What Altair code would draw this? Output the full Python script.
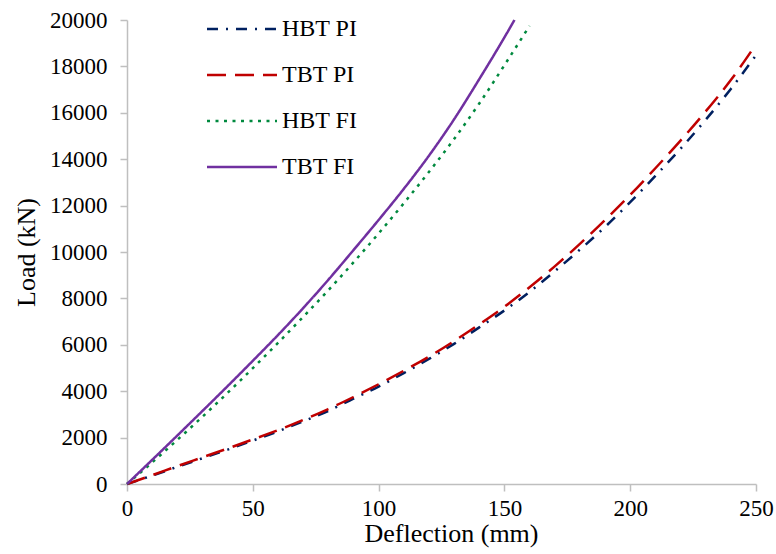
import altair as alt
import pandas as pd

series_names = ["HBT PI", "TBT PI", "HBT FI", "TBT FI"]
series_colors = ["#002060", "#C00000", "#00893E", "#7030A0"]
series_dashes = [[11, 8, 2, 8], [19, 9], [3, 5.5], [1, 0]]

x_ticks = [0, 50, 100, 150, 200, 250]
y_ticks = [0, 2000, 4000, 6000, 8000, 10000, 12000, 14000, 16000, 18000, 20000]

hbt_pi_x = [0, 10, 20, 30, 40, 50, 60, 70, 80, 90, 100, 110, 120, 130, 140, 150,
            160, 170, 180, 190, 200, 210, 220, 230, 240, 250]
hbt_pi_y = [0, 360, 740, 1110, 1480, 1870, 2270, 2700, 3150, 3680, 4200, 4780, 5390,
            6040, 6750, 7480, 8280, 9170, 10100, 11080, 12150, 13280, 14450, 15700,
            17030, 18480]

tbt_pi_x = [0, 10, 20, 30, 40, 50, 60, 70, 80, 90, 100, 110, 120, 130, 140, 150,
            160, 170, 180, 190, 200, 210, 220, 230, 240, 250]
tbt_pi_y = [0, 380, 770, 1150, 1530, 1920, 2320, 2760, 3230, 3750, 4300, 4880, 5490,
            6160, 6880, 7640, 8480, 9380, 10350, 11380, 12460, 13610, 14800, 16060,
            17410, 18950]

hbt_fi_x = [0, 10, 20, 30, 40, 50, 60, 70, 80, 90, 100, 110, 120, 130, 140, 150, 160]
hbt_fi_y = [0, 930, 1900, 2900, 3930, 4990, 6080, 7200, 8350, 9550, 10800, 12100,
            13450, 14870, 16400, 18050, 19750]

tbt_fi_x = [0, 10, 20, 30, 40, 50, 60, 70, 80, 90, 100, 110, 120, 130, 140, 150, 154]
tbt_fi_y = [0, 1040, 2090, 3150, 4220, 5310, 6420, 7580, 8800, 10080, 11380, 12720,
            14150, 15720, 17450, 19250, 20000]

rows = []
for name, xs, ys in [("HBT PI", hbt_pi_x, hbt_pi_y), ("TBT PI", tbt_pi_x, tbt_pi_y),
                     ("HBT FI", hbt_fi_x, hbt_fi_y), ("TBT FI", tbt_fi_x, tbt_fi_y)]:
    for i, (xv, yv) in enumerate(zip(xs, ys)):
        rows.append({"series": name, "d": xv, "L": yv, "i": i})
df = pd.DataFrame(rows)

FONT = "Liberation Serif, Times New Roman, serif"

legend = alt.Legend(
    title=None, orient="none", legendX=103, legendY=-3,
    symbolType="M-3.5,0L3.5,0", symbolSize=400, symbolStrokeWidth=2.5,
    labelFont=FONT, labelFontSize=24, labelColor="black", labelOffset=28,
    rowPadding=22, padding=0,
)

chart = alt.Chart(df).mark_line(strokeWidth=2.5, clip=False, interpolate="monotone").encode(
    x=alt.X("d:Q", scale=alt.Scale(domain=[0, 250], nice=False),
            axis=alt.Axis(values=x_ticks, title="Deflection (mm)", titleX=324, titleY=49,
                          titleBaseline="middle", labelPadding=6, labelFlush=False)),
    y=alt.Y("L:Q", scale=alt.Scale(domain=[0, 20000], nice=False),
            axis=alt.Axis(values=y_ticks, format="d", title="Load (kN)", titleX=-101, titleY=232,
                          titleBaseline="middle", titleAlign="center", titleAngle=270,
                          labelPadding=13, labelFlush=False)),
    color=alt.Color("series:N", scale=alt.Scale(domain=series_names, range=series_colors),
                    legend=legend),
    strokeDash=alt.StrokeDash("series:N", scale=alt.Scale(domain=series_names, range=series_dashes),
                              legend=legend),
    order="i:Q",
).properties(
    width=629, height=464,
    padding={"left": 127, "top": 20, "right": 20, "bottom": 70},
    autosize=alt.AutoSizeParams(type="none"),
    background="white",
).configure_view(stroke=None).configure_axis(
    grid=False, domainColor="#BFBFBF", tickColor="#BFBFBF", domainWidth=1.5, tickWidth=1.5,
    tickSize=7, labelFont=FONT, labelFontSize=23, labelColor="black",
    titleFont=FONT, titleFontSize=26, titleFontWeight="normal", titleColor="black",
)

chart.save("out.html", embed_options={"renderer": "svg", "actions": False})
